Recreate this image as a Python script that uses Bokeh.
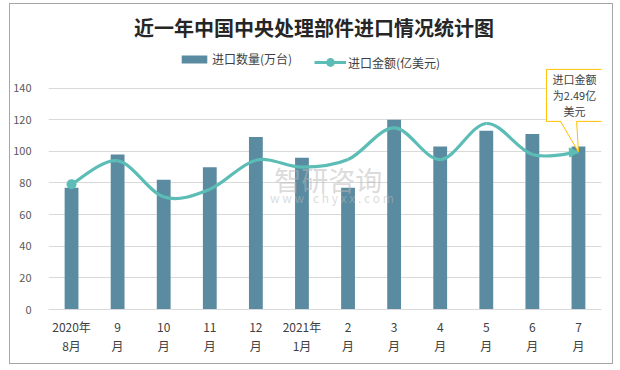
from bokeh.plotting import figure
from bokeh.models import (Range1d, Label, Legend, LegendItem, Arrow, NormalHead,
                          FixedTicker)
from bokeh.embed import file_html
from bokeh.resources import INLINE

# ---------------- data ----------------
categories = ["2020年\n8月", "9\n月", "10\n月", "11\n月", "12\n月", "2021年\n1月",
              "2\n月", "3\n月", "4\n月", "5\n月", "6\n月", "7\n月"]
quantity = [77, 98, 82, 90, 109, 96, 77, 120, 103, 113, 111, 103]   # 万台
amount = [1.98, 2.35, 1.78, 1.90, 2.36, 2.25, 2.37, 2.87, 2.37, 2.94, 2.45, 2.49]  # 亿美元
y_ticks = [0, 20, 40, 60, 80, 100, 120, 140]
title_text = "近一年中国中央处理部件进口情况统计图"
bar_name = "进口数量(万台)"
line_name = "进口金额(亿美元)"
callout_text = "进口金额\n为2.49亿\n美元"

BAR = "#5A8BA1"
LINE = "#5BBDB5"
FONT = "Noto Sans CJK SC"

n = len(categories)
xs = list(range(n))

Y_TOP = 192.2        # headroom above the 140 gridline holds title / legend / callout
AMT_SCALE = 40.0     # hidden secondary scale (亿美元 -> axis units)

p = figure(width=604, height=361, output_backend="svg", toolbar_location=None,
           x_range=Range1d(-0.5, n - 0.5), y_range=Range1d(0, Y_TOP),
           min_border_left=38, min_border_right=13, min_border_top=1, min_border_bottom=56)
p.margin = (3, 0, 0, 9)
p.extra_y_ranges = {"amt": Range1d(0, Y_TOP / AMT_SCALE)}
p.outline_line_color = None
p.background_fill_color = "white"
p.border_fill_color = "white"
p.styles = {"border": "1px solid #A6A6A6"}

# axes
p.xaxis.ticker = FixedTicker(ticks=xs)
p.xaxis.major_label_overrides = {i: c for i, c in enumerate(categories)}
p.xaxis.axis_line_color = "#D9D9D9"
p.xaxis.major_tick_line_color = None
p.xaxis.minor_tick_line_color = None
p.xaxis.major_label_text_font = FONT
p.xaxis.major_label_text_font_size = "12px"
p.xaxis.major_label_text_color = "#404040"
p.xaxis.major_label_text_line_height = 1.15
p.xaxis.major_label_standoff = 2

p.yaxis.ticker = FixedTicker(ticks=y_ticks)
p.yaxis.axis_line_color = None
p.yaxis.major_tick_line_color = None
p.yaxis.minor_tick_line_color = None
p.yaxis.major_label_text_font = FONT
p.yaxis.major_label_text_font_size = "11px"
p.yaxis.major_label_text_color = "#595959"
p.yaxis.major_label_standoff = 11

p.xgrid.grid_line_color = None
p.ygrid.grid_line_color = "#D9D9D9"
p.ygrid.ticker = FixedTicker(ticks=y_ticks)

# bars
bars = p.vbar(x=xs, top=quantity, width=0.3, fill_color=BAR, line_color=None)

# smoothed line (Catmull-Rom -> Bezier)
x0s, y0s, x1s, y1s, cx0s, cy0s, cx1s, cy1s = [], [], [], [], [], [], [], []
for i in range(n - 1):
    pa = i - 1 if i > 0 else i
    pd = i + 2 if i + 2 < n else i + 1
    x0s.append(xs[i]); y0s.append(amount[i])
    x1s.append(xs[i + 1]); y1s.append(amount[i + 1])
    cx0s.append(xs[i] + (xs[i + 1] - xs[pa]) / 6)
    cy0s.append(amount[i] + (amount[i + 1] - amount[pa]) / 6)
    cx1s.append(xs[i + 1] - (xs[pd] - xs[i]) / 6)
    cy1s.append(amount[i + 1] - (amount[pd] - amount[i]) / 6)
p.bezier(x0=x0s, y0=y0s, x1=x1s, y1=y1s, cx0=cx0s, cy0=cy0s, cx1=cx1s, cy1=cy1s,
         line_color=LINE, line_width=3.2, y_range_name="amt")
start_pt = p.scatter(x=[xs[0]], y=[amount[0]], size=10, marker="circle",
                     fill_color=LINE, line_color=None, y_range_name="amt")
p.add_layout(Arrow(end=NormalHead(size=9, fill_color=LINE, line_color=LINE),
                   x_start=cx1s[-1], y_start=cy1s[-1], x_end=xs[-1], y_end=amount[-1],
                   line_color=LINE, line_width=3, y_range_name="amt"))
# one-point line: draws nothing in the plot, only supplies the legend swatch line
leg_line = p.line(x=[xs[0]], y=[amount[0]], line_color=LINE, line_width=3.2,
                  y_range_name="amt")

# legends
leg1 = Legend(items=[LegendItem(label=bar_name, renderers=[bars])],
              location=(130, 242), orientation="horizontal",
              glyph_width=32, glyph_height=10, label_height=10, label_standoff=2,
              padding=0, margin=0, border_line_color=None, background_fill_alpha=0,
              label_text_font=FONT, label_text_font_size="12px", label_text_color="#404040")
leg2 = Legend(items=[LegendItem(label=line_name, renderers=[leg_line, start_pt])],
              location=(266, 236), orientation="horizontal",
              glyph_width=32, glyph_height=22, label_height=22, label_standoff=2,
              padding=0, margin=0, border_line_color=None, background_fill_alpha=0,
              label_text_font=FONT, label_text_font_size="12px", label_text_color="#404040")
p.add_layout(leg1, "center")
p.add_layout(leg2, "center")

# title
p.add_layout(Label(x=5.26, y=178.3, text=title_text, text_align="center",
                   text_baseline="middle", text_font=FONT, text_font_style="bold",
                   text_font_size="20px", text_color="#262626"))

# watermark
p.add_layout(Label(x=5.57, y=82.5, text="智研咨询", text_align="center",
                   text_baseline="middle", text_font=FONT, text_font_size="27px",
                   text_color="#B8B8B8", text_alpha=0.5))
p.add_layout(Label(x=5.65, y=70.5, text="w w w . c h y x x . c o m", text_align="center",
                   text_baseline="middle", text_font=FONT, text_font_size="12px",
                   text_color="#B8B8B8", text_alpha=0.5))

# callout
box_top = 3.795
box_bottom = 2.973
p.add_layout(Label(x=xs[-1], y=box_top, x_offset=-4, text=callout_text, text_align="center",
                   text_baseline="top", text_font=FONT, text_font_size="11px",
                   text_color="#404040", text_line_height=1.0, y_range_name="amt",
                   border_line_color="#FFC000", border_line_width=1,
                   background_fill_color="white",
                   padding=dict(left=6, right=6, top=2, bottom=2)))
bx0, bx1 = xs[-1] - 0.39, xs[-1] - 0.04
p.patch(x=[bx0, bx1, xs[-1]], y=[box_bottom + 0.01, box_bottom + 0.01, amount[-1]],
        fill_color="white", line_color=None, y_range_name="amt", level="overlay")
p.multi_line(xs=[[bx0, xs[-1]], [bx1, xs[-1]]],
             ys=[[box_bottom, amount[-1]], [box_bottom, amount[-1]]],
             line_color="#FFC000", line_width=1, y_range_name="amt", level="overlay")

open("out.html", "w").write(file_html(p, INLINE))
